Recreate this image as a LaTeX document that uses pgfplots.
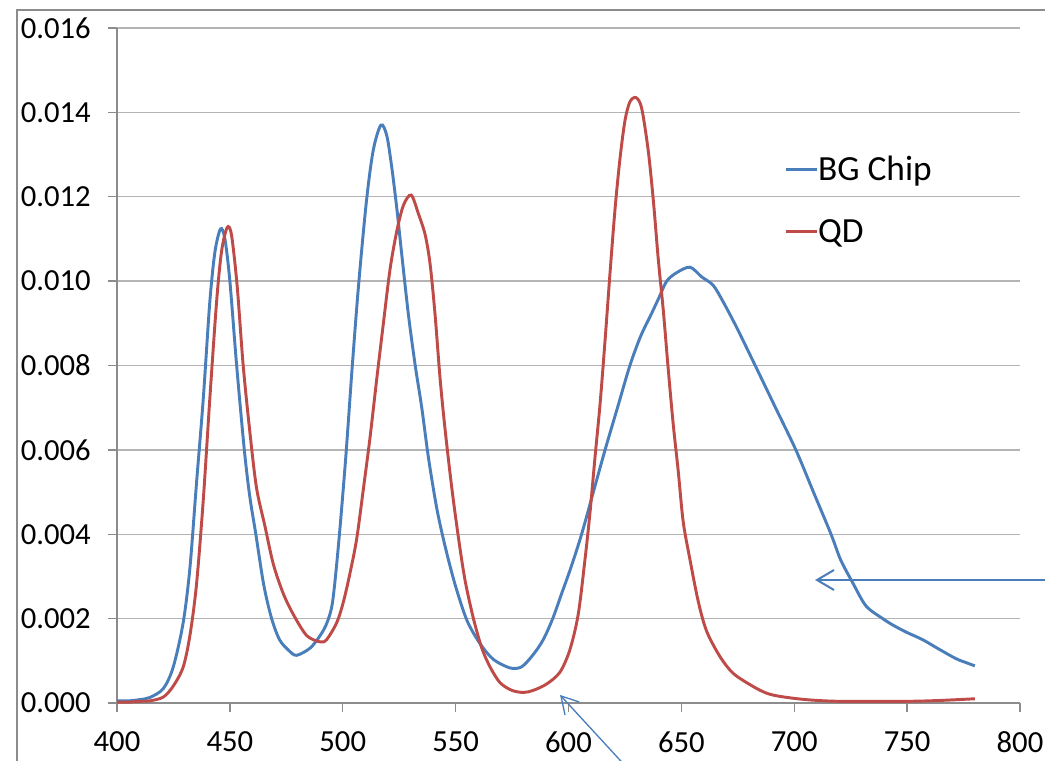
\documentclass[border=0pt]{standalone}
\usepackage{pgfplots}
\pgfplotsset{compat=1.18}
\usepackage{fontspec}
\setmainfont{Carlito}
\definecolor{xlblue}{HTML}{4A7EBB}
\definecolor{xlred}{HTML}{BE4B48}
\definecolor{gridgray}{HTML}{B4B4B4}
\definecolor{axisgray}{HTML}{8C8C8C}
\begin{document}
\begin{tikzpicture}[x=0.75pt,y=0.75pt]
\useasboundingbox (0,0) rectangle (1045,760);
\clip (0,0) rectangle (1045,760);
\draw[axisgray, line width=1pt] (17,-5) -- (17,750) -- (1050,750);
\begin{axis}[
  at={(87.75pt,42.75pt)}, anchor=south west,
  scale only axis, width=677.25pt, height=506.25pt,
  xmin=400, xmax=800, ymin=0, ymax=0.016,
  xtick={400,450,500,550,600,650,700,750,800},
  ytick={0,0.002,0.004,0.006,0.008,0.010,0.012,0.014,0.016},
  axis x line=bottom, axis y line=left,
  axis line style={axisgray, line width=1pt, -},
  tick align=outside, major tick length=6.75pt,
  tick style={axisgray, line width=1pt},
  ymajorgrids, grid style={gridgray, line width=1pt},
  scaled y ticks=false,
  /pgf/number format/assume math mode=true,
  yticklabel style={/pgf/number format/.cd, fixed, fixed zerofill, precision=3, /tikz/.cd, anchor=east, inner sep=0pt, xshift=-12.75pt},
  xticklabel style={anchor=north, inner sep=0pt, yshift=-14.6pt},
  ticklabel style={font=\fontsize{23}{27}\selectfont},
  legend style={at={(0.7386,0.7445)}, anchor=west, draw=none, fill=none, inner sep=0pt,
    font=\fontsize{26.5}{30}\selectfont, row sep=29.25pt,
    nodes={inner sep=0pt, text height=17pt, text depth=0pt},
    /tikz/every even column/.append style={column sep=3pt}},
  legend cell align=left,
  legend image code/.code={\draw[#1] (0pt,0pt) -- (23.25pt,0pt);},
]
\addplot[xlblue, line width=2.2pt, smooth] coordinates {
(400,0.00005)(405,0.00005)(410,0.00008)(414.5,0.00013)(420.5,0.00034)(424.9,0.00085)
(429.3,0.0019)(432.3,0.0032)(435.2,0.0052)(438.2,0.0072)(441.1,0.0095)(443.4,0.0107)
(445.9,0.01124)(447.8,0.0110)(450,0.0100)(453,0.0080)(456.4,0.0060)(458.8,0.0049)
(461.5,0.0040)(465,0.0028)(468.5,0.0020)(472,0.0015)(476,0.00125)(479.5,0.00113)
(485.5,0.0013)(490,0.0016)(493,0.0019)(495.5,0.0024)(498.2,0.0038)(501.3,0.0058)
(504.1,0.0079)(507,0.0099)(510.5,0.0119)(513.5,0.0131)(516.9,0.0137)
(519.5,0.01345)(521.7,0.0127)(524,0.0117)(526.2,0.0106)(529.1,0.0092)(532.1,0.0080)
(535,0.0070)(538,0.0058)(541.7,0.0046)(545.4,0.0037)(549.8,0.0028)(555,0.00196)
(560.9,0.0014)(566.8,0.00103)(574.2,0.00083)(579.3,0.00086)(584.4,0.00115)(588.8,0.0015)
(593,0.0020)(597,0.0026)(601,0.0032)(605.8,0.0040)(611,0.0050)(616.2,0.0060)(621.7,0.0070)
(627.2,0.0080)(632,0.0087)(636.5,0.0092)(640,0.0096)(643.5,0.0100)(647.9,0.0102)
(653.8,0.01033)(659,0.0101)(664.1,0.0099)(668.6,0.0095)(674.5,0.0089)(682.7,0.0080)
(691.7,0.0070)(700.7,0.0060)(708.5,0.0050)(716.3,0.0040)(720.5,0.0034)(725.9,0.00285)
(731.8,0.0023)(739.2,0.0020)(743.6,0.00185)(749.6,0.00168)(756.9,0.0015)(764.3,0.00127)
(771.7,0.00105)(776,0.00096)(780,0.00088)
};
\addlegendentry{BG Chip}
\addplot[xlred, line width=2.2pt, smooth] coordinates {
(400,0.00002)(405,0.00002)(410,0.00004)(414.5,0.00005)(420.5,0.00014)(424.9,0.0004)
(429.3,0.00085)(432.3,0.0016)(435.2,0.0028)(438.2,0.0048)(441.1,0.0072)(444.1,0.0095)
(446.3,0.0107)(448.8,0.01127)(450.7,0.0111)(453.2,0.0099)(455.9,0.0080)(458.9,0.0064)
(461.8,0.0051)(465.5,0.0042)(469.2,0.0033)(473.6,0.0026)(478.1,0.0021)(484,0.0016)
(489.9,0.00145)(492.8,0.0015)(497.3,0.0019)(500.3,0.0024)(503.3,0.0031)(506.2,0.0039)
(509.2,0.0051)(512.1,0.0063)(515.1,0.0077)(518,0.0090)(521,0.0103)(524,0.0112)
(526.9,0.0118)(530.3,0.01204)(533.5,0.0116)(536.5,0.0111)(538.7,0.0104)(540.9,0.0092)
(543.1,0.0077)(545.3,0.0065)(548.3,0.0051)(551.3,0.0039)(554.2,0.0029)(557.9,0.0020)
(561.6,0.0013)(565.3,0.00085)(569.7,0.00048)(574.9,0.0003)(580.1,0.00025)(584.4,0.0003)
(590.3,0.00045)(596.2,0.00073)(600.6,0.00126)(604.3,0.0021)(607.3,0.0034)(609.5,0.0045)
(611.7,0.0058)(614,0.0071)(616.2,0.0086)(618.4,0.0102)(620.6,0.0117)(622.8,0.0129)
(625,0.0138)(627.2,0.01425)(629.9,0.01435)(632.4,0.0141)(635.3,0.0131)(637.6,0.0119)
(639.8,0.0105)(642,0.0093)(644.2,0.0079)(646.4,0.0066)(648.6,0.0055)(650.8,0.0043)
(653.8,0.0034)(657.5,0.0024)(661.2,0.0017)(667.1,0.0011)(673,0.0007)(681.5,0.0004)
(687.4,0.00024)(693.3,0.00016)(705.2,0.00008)(720,0.00004)(749.6,0.00004)(764.3,0.00006)
(780,0.0001)
};
\addlegendentry{QD}
\end{axis}
\draw[xlblue, line width=1.5pt] (1050,180) -- (817,180);
\draw[xlblue, line width=1.5pt] (834,190) -- (817,180) -- (834,170);
\draw[xlblue, line width=1pt] (630,-11) -- (561,64);
\draw[xlblue, line width=1pt] (579.3,58) -- (561,64) -- (565,45);
\end{tikzpicture}
\end{document}
